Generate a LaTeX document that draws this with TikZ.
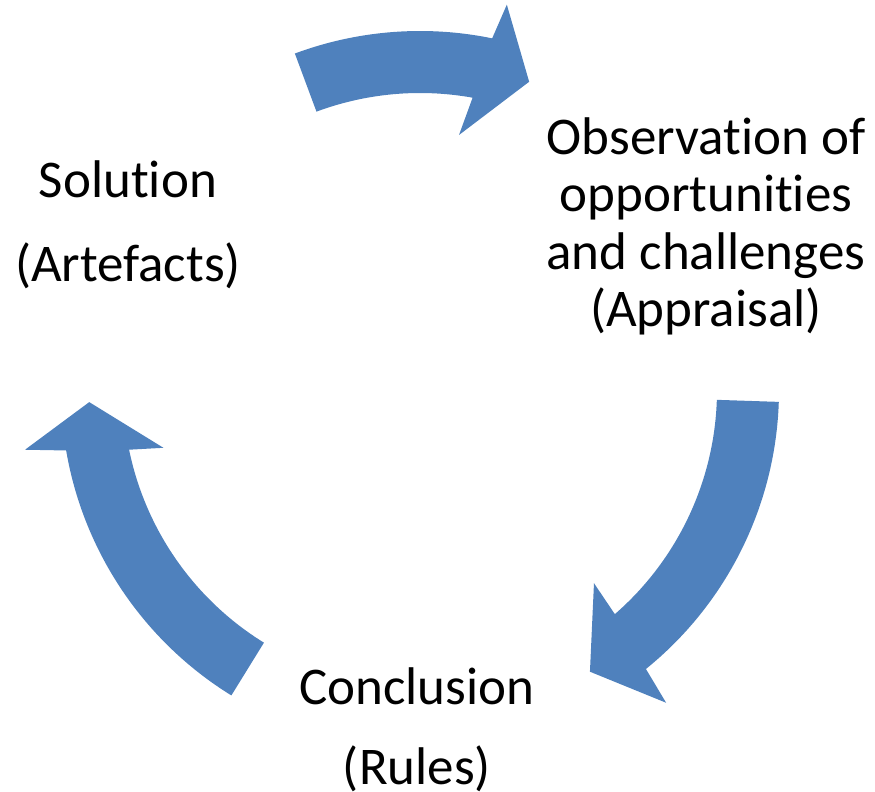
\documentclass[tikz,border=0pt]{standalone}
\usepackage{fontspec}
\setmainfont[Ligatures=NoCommon]{Carlito}
\usepackage{xcolor}
\usepackage{tikz}
\usetikzlibrary{positioning}
\definecolor{CycleBlue}{HTML}{4F81BD}

\begin{document}
\begin{tikzpicture}[x=1pt,y=1pt,
                    every node/.style={inner sep=0pt,align=center,anchor=base},
                    cyc/.style={fill=CycleBlue,draw=none}]
  \useasboundingbox (0,0) rectangle (875,792);
  \coordinate (C) at (420,402);
  % three curved block arrows round the centre
  \begin{scope}[shift={(C)}]
    \fill[cyc] (110.4:359) arc[start angle=110.4,end angle=78.4,radius=359]
      -- (77.3:395) -- (70.5:327) -- (81.3:258) -- (79.8:297)
      arc[start angle=79.8,end angle=110.4,radius=297] -- cycle;
    \fill[cyc] (-1.9:359) arc[start angle=-1.9,end angle=-51,radius=359]
      -- (-51.8:398) -- (-58.9:329) -- (-48:260) -- (-49:297)
      arc[start angle=-49,end angle=-1.9,radius=297] -- cycle;
    \fill[cyc] (238.3:359) arc[start angle=238.3,end angle=189.7,radius=359]
      -- (188.6:399.5) -- (182.1:331) -- (192.7:263) -- (191.6:297)
      arc[start angle=191.6,end angle=238.3,radius=297] -- cycle;
  \end{scope}
  % base anchor sits on the last line
  \node[font=\fontsize{53}{57.5}\selectfont] (obs) at (706,465)
    {Observation of\\opportunities\\and challenges\\(Appraisal)};
  \node[font=\fontsize{53}{84}\selectfont] (sol) at (128,510)
    {Solution\\(Artefacts)};
  \node[font=\fontsize{53}{80}\selectfont] (concl) at (417,7)
    {Conclusion\\(Rules)};
\end{tikzpicture}
\end{document}
